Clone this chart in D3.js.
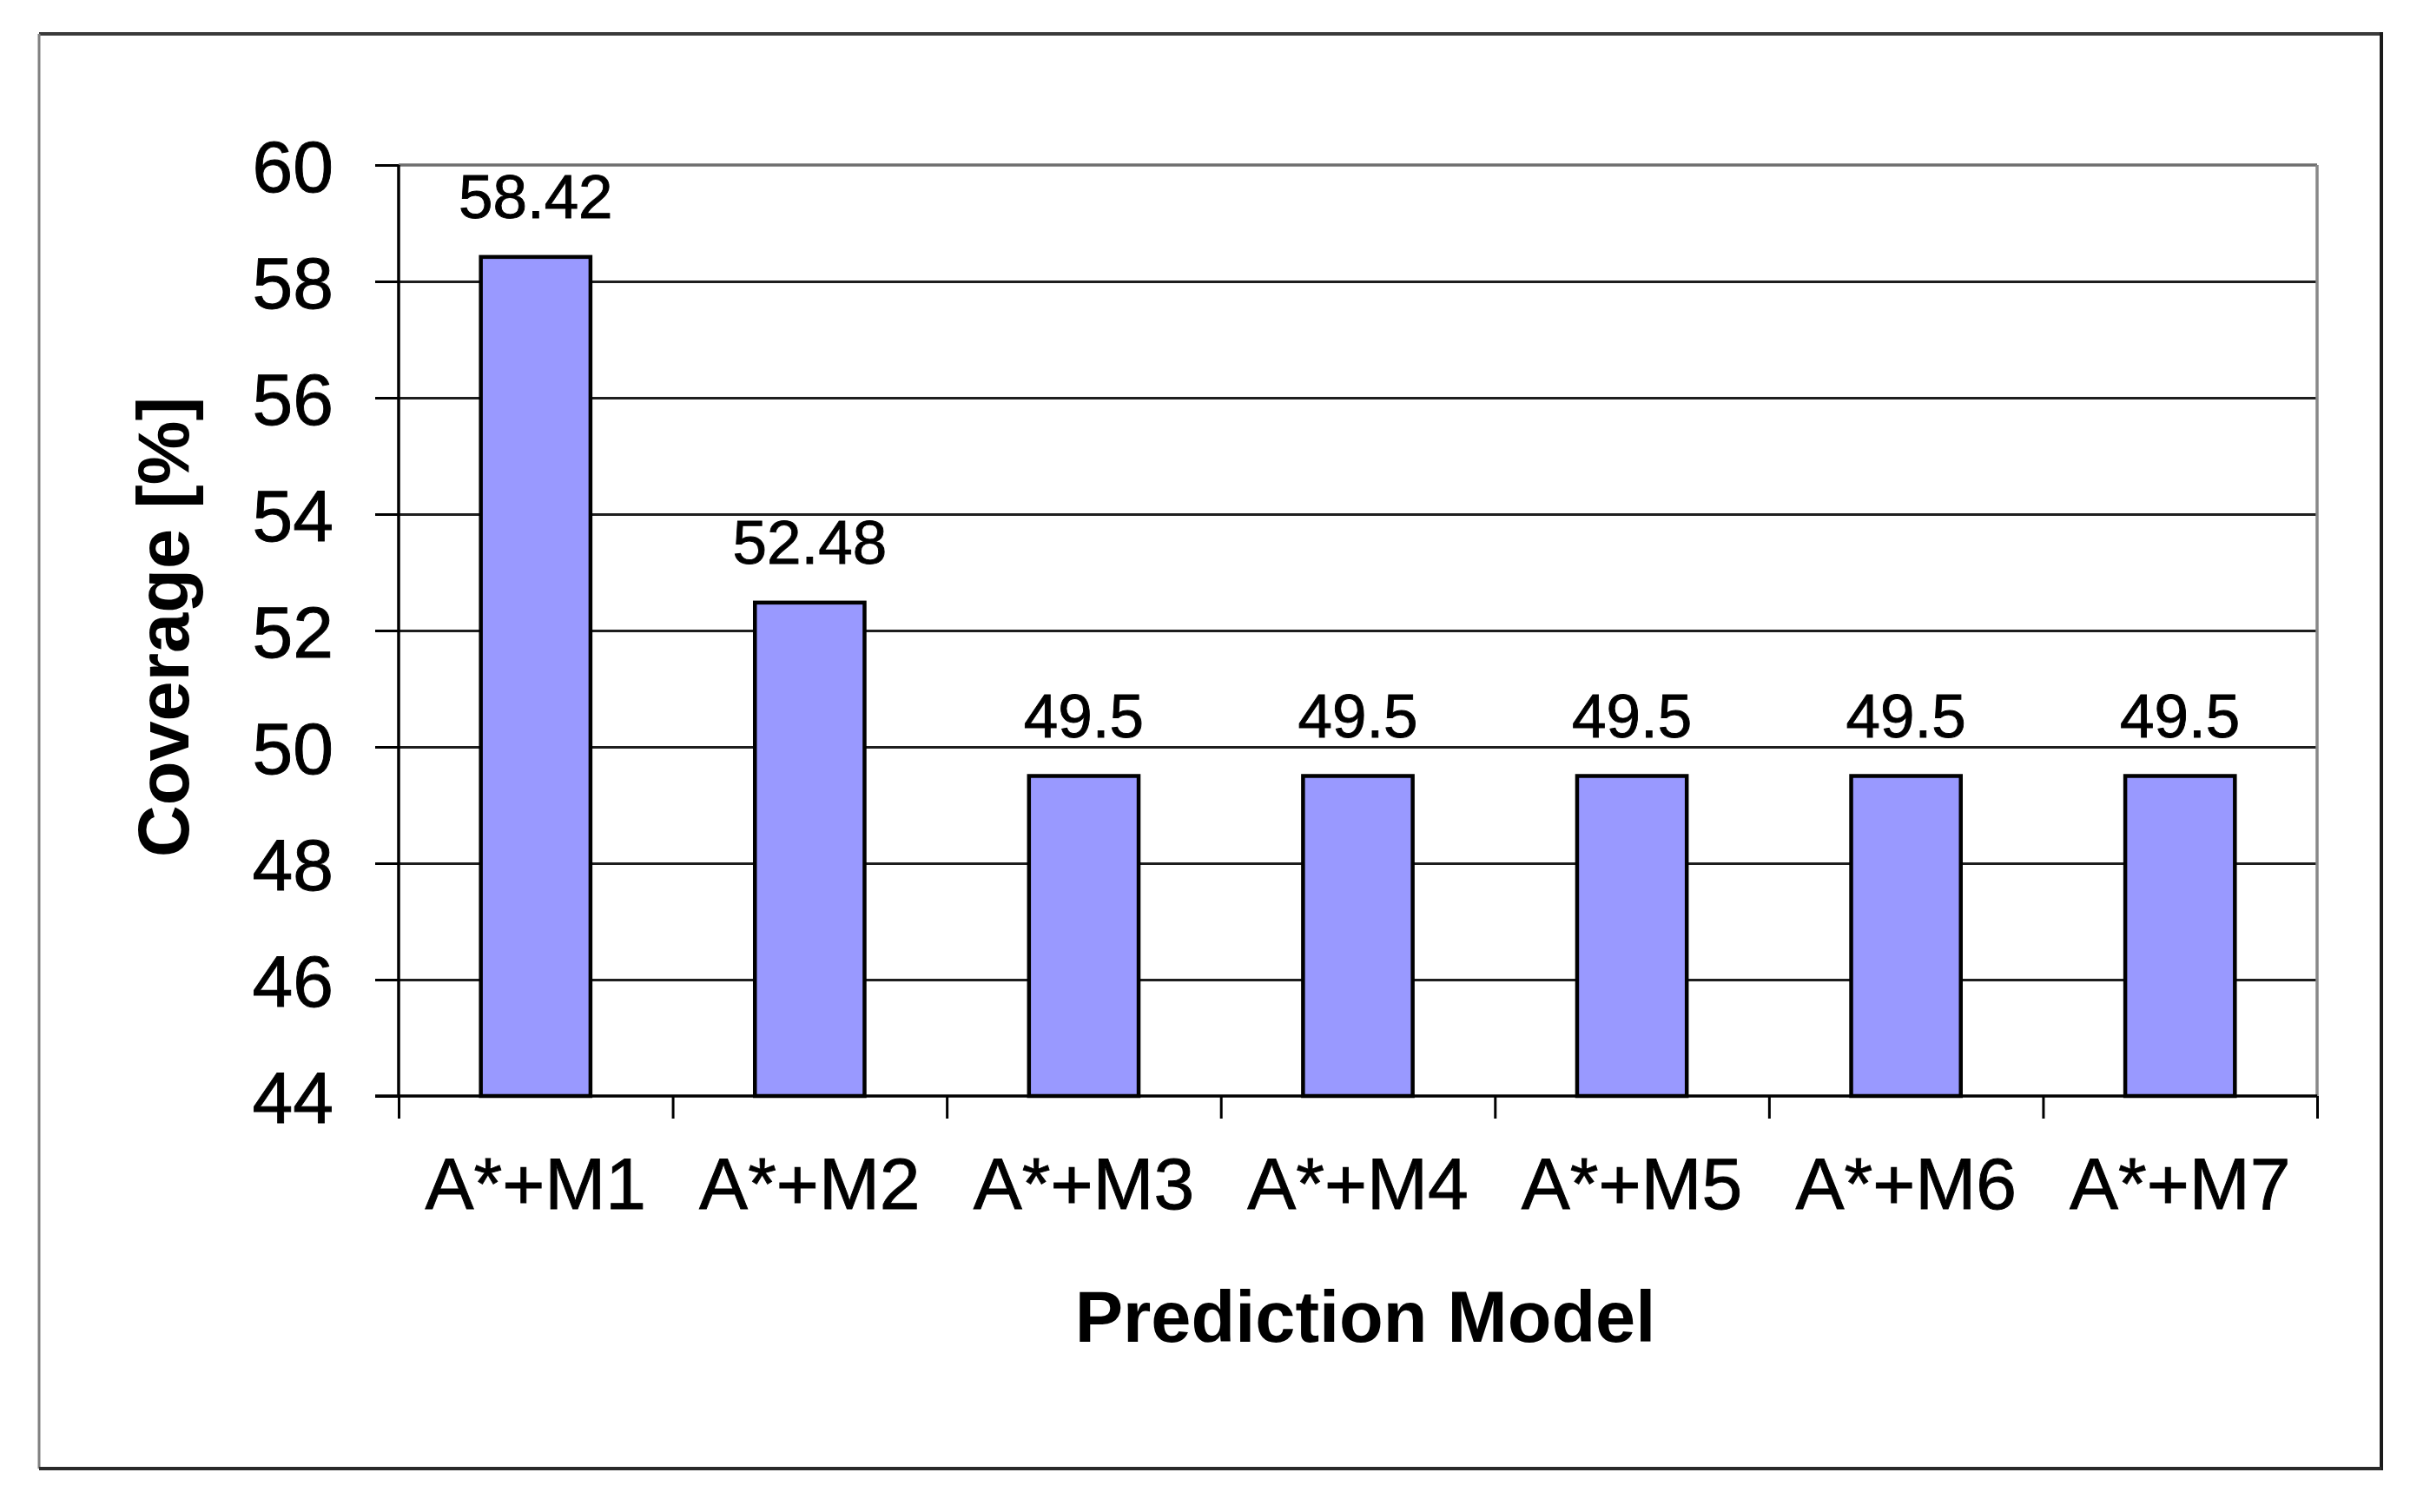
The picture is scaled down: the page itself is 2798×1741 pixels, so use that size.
<!DOCTYPE html>
<html>
<head>
<meta charset="utf-8">
<script src="https://cdn.jsdelivr.net/npm/d3@7"></script>
<style>
  html, body { margin: 0; padding: 0; background: #ffffff; }
  svg { display: block; }
  text { font-family: Arial, "Liberation Sans", sans-serif; fill: #000; }
  .thick { stroke: #000; stroke-width: 0.9px; }
</style>
</head>
<body>
<svg id="chart" width="2798" height="1741"></svg>
<script>
const categories = ["A*+M1", "A*+M2", "A*+M3", "A*+M4", "A*+M5", "A*+M6", "A*+M7"];
const values = [58.42, 52.48, 49.5, 49.5, 49.5, 49.5, 49.5];
const valueLabels = ["58.42", "52.48", "49.5", "49.5", "49.5", "49.5", "49.5"];
const yTicks = [44, 46, 48, 50, 52, 54, 56, 58, 60];
const yTitle = "Coverage [%]";
const xTitle = "Prediction Model";

const svg = d3.select("#chart");
const W = 2798, H = 1741;
const plot = { left: 459, right: 2668, top: 190, bottom: 1262 };

svg.append("rect").attr("width", W).attr("height", H).attr("fill", "#fff");

// outer frame
const frame = { l: 45, t: 39, r: 2742, b: 1691 };
svg.append("line").attr("x1", frame.l).attr("x2", frame.r).attr("y1", frame.t).attr("y2", frame.t)
  .attr("stroke", "#3a3a3a").attr("stroke-width", 4);
svg.append("line").attr("x1", frame.l).attr("x2", frame.l).attr("y1", frame.t).attr("y2", frame.b)
  .attr("stroke", "#808080").attr("stroke-width", 3);
svg.append("line").attr("x1", frame.r).attr("x2", frame.r).attr("y1", frame.t - 2).attr("y2", frame.b + 2)
  .attr("stroke", "#1a1a1a").attr("stroke-width", 4);
svg.append("line").attr("x1", frame.l).attr("x2", frame.r).attr("y1", frame.b).attr("y2", frame.b)
  .attr("stroke", "#2a2a2a").attr("stroke-width", 4);

const y = d3.scaleLinear().domain([44, 60]).range([plot.bottom, plot.top]);
const x = d3.scaleBand().domain(categories).range([plot.left, plot.right])
  .paddingInner(0.6).paddingOuter(0.3);
const xBound = d3.scaleLinear().domain([0, categories.length]).range([plot.left, plot.right]);

// gridlines
const grid = svg.append("g").attr("transform", `translate(${plot.left},0)`)
  .call(d3.axisLeft(y).tickValues(yTicks.filter(v => v > 44 && v < 60))
    .tickSize(-(plot.right - plot.left)).tickFormat(""));
grid.select(".domain").remove();
grid.selectAll("line").attr("stroke", "#1e1e1e").attr("stroke-width", 2.8);

// plot area top & right border (gray)
svg.append("line").attr("x1", plot.left).attr("x2", plot.right).attr("y1", plot.top).attr("y2", plot.top)
  .attr("stroke", "#6e6e6e").attr("stroke-width", 3.5);
svg.append("line").attr("x1", plot.right).attr("x2", plot.right).attr("y1", plot.top).attr("y2", plot.bottom)
  .attr("stroke", "#888").attr("stroke-width", 3.5);

// bars
svg.append("g").selectAll("rect").data(values).join("rect")
  .attr("x", (d, i) => x(categories[i]))
  .attr("width", x.bandwidth())
  .attr("y", d => y(d))
  .attr("height", d => y(44) - y(d))
  .attr("fill", "#9999ff")
  .attr("stroke", "#000")
  .attr("stroke-width", 4.5);

// data labels
svg.append("g").selectAll("text").data(values).join("text")
  .attr("class", "thick")
  .attr("x", (d, i) => x(categories[i]) + x.bandwidth() / 2)
  .attr("y", d => y(d) - 45)
  .attr("text-anchor", "middle")
  .style("font-size", "71px")
  .text((d, i) => valueLabels[i]);

// y axis
const yAxis = svg.append("g").attr("transform", `translate(${plot.left},0)`)
  .call(d3.axisLeft(y).tickValues(yTicks).tickSize(27).tickPadding(48).tickFormat(d3.format("d")));
yAxis.select(".domain").attr("stroke", "#000").attr("stroke-width", 3.5)
  .attr("d", `M0,${plot.top}V${plot.bottom}`);
yAxis.selectAll(".tick line").attr("stroke", "#000").attr("stroke-width", 3);
yAxis.selectAll(".tick text").attr("class", "thick").style("font-size", "84px")
  .style("font-family", "Arial, 'Liberation Sans', sans-serif").attr("fill", "#000").attr("dy", "0.36em");

// x axis boundaries ticks
const xAxis = svg.append("g").attr("transform", `translate(0,${plot.bottom})`)
  .call(d3.axisBottom(xBound).tickValues(d3.range(0, categories.length + 1)).tickSize(26).tickFormat(""));
xAxis.select(".domain").attr("stroke", "#000").attr("stroke-width", 3.5)
  .attr("d", `M${plot.left - 27},0H${plot.right}`);
xAxis.selectAll(".tick line").attr("stroke", "#000").attr("stroke-width", 3);

// category labels
const xLab = svg.append("g").attr("transform", `translate(0,${plot.bottom})`)
  .call(d3.axisBottom(x).tickSize(0).tickPadding(0));
xLab.select(".domain").remove();
xLab.selectAll(".tick text").attr("class", "thick").style("font-size", "84px")
  .style("font-family", "Arial, 'Liberation Sans', sans-serif").attr("fill", "#000")
  .attr("y", 130).attr("dy", 0);

// axis titles
svg.append("text").attr("x", 1572).attr("y", 1545).attr("text-anchor", "middle")
  .style("font-size", "83px").style("font-weight", "bold").text(xTitle);
svg.append("text").attr("transform", "translate(217,722) rotate(-90)").attr("text-anchor", "middle")
  .style("font-size", "83px").style("font-weight", "bold").text(yTitle);
</script>
</body>
</html>
